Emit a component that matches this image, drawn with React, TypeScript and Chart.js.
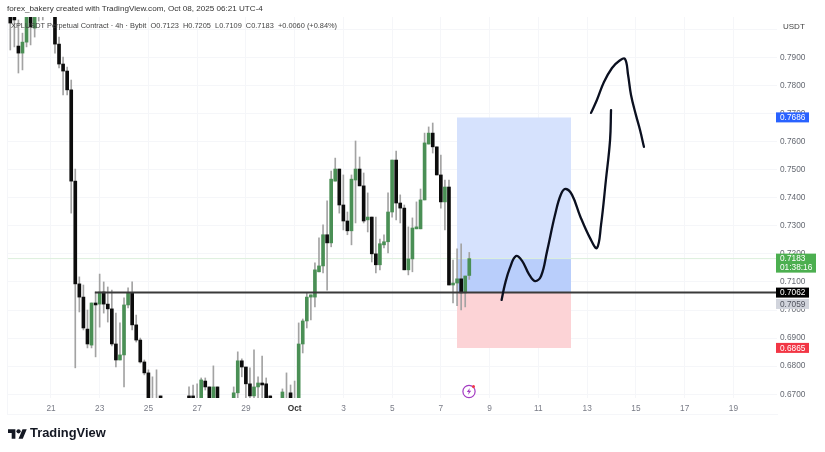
import React, { useEffect, useRef } from "react";
import { Chart, registerables } from "chart.js";

Chart.register(...registerables);

const N = null;
const firstCandleDay = 19.33;
const candlesPerDay = 6;

const opens = [
  .8068,.8051,.7940,.7915,.7954,.8054,.8004,.8076,.8086,N,
  N,.8068,.7947,.7876,.7851,.7784,.7459,.7093,.7046,.6932,
  .6875,.7025,.7021,.7064,.7021,.7004,.6879,.6822,.6840,.7018,
  .7061,.6947,.6893,.6815,.6776,.6680,.6680,.6694,N,N,
  N,N,N,N,.6694,.6694,.6680,.6662,.6747,.6726,
  .6662,.6726,N,N,N,.6662,.6705,.6819,.6797,.6737,
  .6694,.6726,.6740,.6737,.6694,N,N,.6662,.6680,.6705,
  .6680,.6662,.6879,.6961,.7046,.7046,.7136,.7157,.7268,.7239,
  .7459,.7502,.7374,.7317,.7282,.7463,.7502,.7442,.7321,.7331,
  .7200,.7161,.7232,.7243,.7349,.7534,.7381,.7363,.7143,.7182,
  .7289,.7289,.7392,.7591,.7630,.7581,.7481,.7385,.7438,.7089,
  .7096,.7111,.7061,.7123,
];
const highs = [
  .8068,.8051,.8033,.7986,.8054,.8054,.8054,.8086,.8086,N,
  N,.8068,.7972,.7901,.7865,.7819,.7502,.7118,.7089,.7000,
  .7025,.7064,.7128,.7100,.7082,.7071,.6989,.6954,.7043,.7079,
  .7100,.6982,.6900,.6822,.6787,.6762,.6787,.6694,N,N,
  N,N,N,N,.6726,.6733,.6737,.6758,.6758,.6726,
  .6801,.6726,N,N,N,.6726,.6851,.6826,.6797,.6794,
  .6858,.6762,.6836,.6758,.6694,N,N,.6719,.6776,.6733,
  .6747,.6954,.6968,.7061,.7054,.7168,.7257,.7303,.7389,.7495,
  .7541,.7502,.7481,.7349,.7481,.7602,.7545,.7488,.7417,.7331,
  .7331,.7253,.7268,.7417,.7534,.7566,.7410,.7374,.7296,.7328,
  .7385,.7431,.7630,.7652,.7666,.7581,.7552,.7463,.7463,.7178,
  .7218,.7236,.7121,.7205,
];
const lows = [
  .7926,.7937,.7844,.7855,.7937,.7944,.7972,.8029,.8033,N,
  N,.7915,.7862,.7766,.7766,.7345,.6794,.6993,.6929,.6865,
  .6865,.6833,.6939,.6989,.6957,.6872,.6797,.6822,.6726,.7007,
  .6929,.6886,.6811,.6769,.6662,.6662,.6662,.6683,N,N,
  N,N,N,N,.6662,.6662,.6662,.6662,.6715,.6662,
  .6662,.6662,N,N,N,.6662,.6662,.6762,.6680,.6680,
  .6680,.6680,.6680,.6662,.6683,N,N,.6662,.6662,.6662,
  .6662,.6662,.6847,.6936,.6965,.7011,.7136,.7132,.7071,.7225,
  .7459,.7345,.7285,.7268,.7232,.7310,.7442,.7310,.7278,.7171,
  .7132,.7143,.7221,.7203,.7331,.7321,.7310,.7143,.7125,.7136,
  .7289,.7289,.7392,.7591,.7559,.7481,.7363,.7285,.7089,.7025,
  .7015,.7000,.7011,.7109,
];
const closes = [
  .8022,.8033,.7915,.7954,.8054,.8008,.8054,.8054,.8068,N,
  N,.7947,.7876,.7851,.7784,.7459,.7093,.7046,.6936,.6879,
  .7025,.7018,.7064,.7021,.7004,.6879,.6822,.6840,.7018,.7061,
  .6947,.6893,.6815,.6776,.6662,.6662,.6662,.6683,N,N,
  N,N,N,N,.6683,.6683,.6662,.6751,.6726,.6662,
  .6726,.6662,N,N,N,.6705,.6819,.6797,.6737,.6694,
  .6726,.6740,.6733,.6662,.6683,N,N,.6708,.6662,.6662,
  .6662,.6879,.6961,.7046,.7054,.7143,.7157,.7268,.7239,.7466,
  .7502,.7374,.7317,.7282,.7466,.7502,.7442,.7317,.7331,.7200,
  .7161,.7236,.7243,.7349,.7534,.7381,.7363,.7143,.7182,.7292,
  .7296,.7392,.7595,.7630,.7581,.7481,.7385,.7438,.7089,.7096,
  .7111,.7061,.7121,.7183,
];

const xTickDays = [21, 23, 25, 27, 29, 31, 33, 35, 37, 39, 41, 43, 45, 47, 49];
const xTickLabels = ["21", "23", "25", "27", "29", "Oct", "3", "5", "7", "9", "11", "13", "15", "17", "19"];
const yTicks = [0.67, 0.68, 0.69, 0.7, 0.71, 0.72, 0.73, 0.74, 0.75, 0.76, 0.77, 0.78, 0.79, 0.8];
const yTickLabels = ["0.6700", "0.6800", "0.6900", "0.7000", "0.7100", "0.7200", "0.7300", "0.7400", "0.7500", "0.7600", "0.7700", "0.7800", "0.7900", ""];

const positionDays = [37.66, 42.34];
const targetPrice = 0.7686;
const lastPrice = 0.7183;
const entryPrice = 0.7062;
const stopPrice = 0.6865;
const levelDays = [22.8, 50.79];
const lastPriceDays = [19.2, 50.79];

const sketchADays = [39.49, 39.63, 39.83, 40.08, 40.33, 40.61, 40.86, 41.11, 41.35, 41.68, 41.93, 42.13, 42.38, 42.71, 43.12, 43.4, 43.57, 43.77, 43.94, 43.98];
const sketchAPrices = [.7036, .7093, .7150, .7192, .7175, .7128, .7103, .7121, .7207, .7338, .7413, .7431, .7410, .7335, .7256, .7221, .7303, .7463, .7605, .7712];
const sketchBDays = [43.16, 43.4, 43.69, 44.02, 44.31, 44.55, 44.68, 44.8, 45.0, 45.17, 45.33];
const sketchBPrices = [.7702, .7748, .7812, .7862, .7887, .7894, .7837, .7766, .7695, .7641, .7581];

const tagValues = [0.7686, 0.7183, 0.7062, 0.7059, 0.6865];
const tagTexts = ["0.7686", "0.7183", "0.7062", "0.7059", "0.6865"];
const tagFills = ["#2962ff", "#4caf50", "#000000", "#d1d4dc", "#f23645"];
const tagInks = ["#ffffff", "#ffffff", "#ffffff", "#50535e", "#ffffff"];
const countdown = "01:38:16";

const FONT = '"Liberation Sans", Arial, sans-serif';
const UP = "#4a8f55";
const DOWN = "#0c0c0c";
const WICK = "#a3a3a3";

const day = (i: number) => firstCandleDay + i / candlesPerDay;
const pairs = (xs: number[], ys: number[]) => xs.map((x, i) => ({ x, y: ys[i] }));

const wicks: any[] = [];
const upBodies: any[] = [];
const downBodies: any[] = [];
opens.forEach((o, i) => {
  if (o === null) return;
  const c = closes[i] as number;
  wicks.push({ x: day(i), y: [lows[i], highs[i]] });
  (c >= o ? upBodies : downBodies).push({ x: day(i), y: [o, c] });
});

const flat = (days: number[], p: number) => days.map((x) => ({ x, y: p }));

const tagsPlugin = {
  id: "priceTags",
  afterDraw(chart: any) {
    const { ctx, scales } = chart;
    ctx.save();
    ctx.textBaseline = "middle";
    ctx.font = `8.3px ${FONT}`;
    tagValues.forEach((v, i) => {
      let y = scales.y.getPixelForValue(v);
      if (i === 3) y += 10.5;
      const isLast = i === 1;
      ctx.fillStyle = tagFills[i];
      ctx.fillRect(776, y - 5, isLast ? 40 : 33, isLast ? 19 : 10);
      ctx.fillStyle = tagInks[i];
      ctx.fillText(tagTexts[i], 780, y + 0.5);
      if (isLast) ctx.fillText(countdown, 780, y + 9);
    });
    ctx.restore();
  },
};

export default function App() {
  const ref = useRef<HTMLCanvasElement>(null);
  useEffect(() => {
    const lineBase = { type: "line", pointRadius: 0, borderWidth: 0, parsing: true };
    const chart = new Chart(ref.current as HTMLCanvasElement, {
      type: "bar",
      data: {
        datasets: [
          { ...lineBase, data: pairs(sketchADays, sketchAPrices), borderColor: "#0b1020", borderWidth: 2.3, tension: 0.4, borderCapStyle: "round" },
          { ...lineBase, data: pairs(sketchBDays, sketchBPrices), borderColor: "#0b1020", borderWidth: 2.3, tension: 0.4, borderCapStyle: "round" },
          { ...lineBase, data: flat(levelDays, entryPrice), borderColor: "#3a3a3a", borderWidth: 2 },
          { data: upBodies, backgroundColor: UP, barThickness: 3, grouped: false },
          { data: downBodies, backgroundColor: DOWN, barThickness: 3, grouped: false },
          { data: wicks, backgroundColor: WICK, barThickness: 1, grouped: false },
          { ...lineBase, data: flat(lastPriceDays, lastPrice), borderColor: "#dcefdc", borderWidth: 1 },
          { ...lineBase, data: flat(positionDays, targetPrice), backgroundColor: "#d6e2fd", fill: { target: { value: lastPrice }, above: "#d6e2fd", below: "#d6e2fd" } },
          { ...lineBase, data: flat(positionDays, lastPrice), backgroundColor: "#b9cefb", fill: { target: { value: entryPrice }, above: "#b9cefb", below: "#b9cefb" } },
          { ...lineBase, data: flat(positionDays, stopPrice), backgroundColor: "#fcd3d6", fill: { target: { value: entryPrice }, above: "#fcd3d6", below: "#fcd3d6" } },
        ] as any,
      },
      options: {
        animation: false,
        responsive: false,
        events: [],
        layout: { padding: { left: 7, top: 17, right: 0, bottom: 38 } },
        plugins: { legend: { display: false }, tooltip: { enabled: false }, title: { display: false } },
        scales: {
          x: {
            type: "linear",
            offset: false,
            min: 19.195,
            max: 50.79,
            border: { display: false },
            grid: { color: "#f5f6f9", offset: false, drawTicks: false },
            afterFit: (s: any) => { s.height = 16; },
            afterBuildTicks: (s: any) => { s.ticks = xTickDays.map((value) => ({ value })); },
            ticks: {
              autoSkip: false,
              maxRotation: 0,
              padding: 6,
              color: (c: any) => (c.tick?.value === 31 ? "#333" : "#787b86"),
              font: (c: any) => ({ family: FONT, size: 8.3, weight: c.tick?.value === 31 ? "bold" : "normal" }),
              callback: (v: any) => xTickLabels[xTickDays.indexOf(Number(v))],
            },
          },
          y: {
            position: "right",
            min: 0.66866,
            max: 0.80435,
            border: { display: false },
            grid: { color: "#f5f6f9", drawTicks: false },
            afterFit: (s: any) => { s.width = 48; },
            afterBuildTicks: (s: any) => { s.ticks = yTicks.map((value) => ({ value })); },
            ticks: {
              autoSkip: false,
              padding: 3,
              color: "#666a73",
              font: { family: FONT, size: 8.3 },
              callback: (v: any) => yTickLabels[yTicks.findIndex((t) => Math.abs(t - Number(v)) < 1e-6)],
            },
          },
        } as any,
      } as any,
      plugins: [tagsPlugin],
    } as any);
    return () => chart.destroy();
  }, []);

  const abs = (left: number, top: number, extra: any = {}) => ({
    position: "absolute", left, top, fontFamily: FONT, whiteSpace: "nowrap", lineHeight: 1, ...extra,
  });

  return (
    <div style={{ position: "fixed", left: 0, top: 0, width: 825, height: 452, background: "#fff", overflow: "hidden", filter: "blur(0.7px)" }}>
      <canvas ref={ref} width={825} height={452} style={{ display: "block" }} />
      <div style={abs(7, 5, { fontSize: 8.1, color: "#333" }) as any}>forex_bakery created with TradingView.com, Oct 08, 2025 06:21 UTC-4</div>
      <div style={abs(11, 22, { fontSize: 7.4, color: "#444" }) as any}>
        XPLUSDT Perpetual Contract · 4h · Bybit&nbsp; O0.7123&nbsp; H0.7205&nbsp; L0.7109&nbsp; C0.7183&nbsp; +0.0060 (+0.84%)
      </div>
      <div style={abs(783, 23, { fontSize: 8, color: "#444" }) as any}>USDT</div>
      <div style={abs(7, 17, { width: 770, height: 397, borderLeft: "1px solid #f5f6f9", borderBottom: "1px solid #f5f6f9" }) as any} />
      <svg style={abs(7.5, 427) as any} width="19" height="14" viewBox="0 0 36 26">
        <path d="M14 22H7V11H0V4h14v18zM28 22h-8l7.5-18h8L28 22z" fill="#131722" />
        <circle cx="20" cy="8" r="4" fill="#131722" />
      </svg>
      <div style={abs(30, 427, { fontSize: 12.9, fontWeight: 700, color: "#131722" }) as any}>TradingView</div>
      <svg style={abs(461, 383) as any} width="16" height="16" viewBox="0 0 16 16">
        <circle cx="8" cy="8.5" r="6.1" fill="#fff" stroke="#a33bc2" strokeWidth="1.2" />
        <path d="M8.8 5 5.8 9h2l-.8 3 3.2-4.2H8.2z" fill="#a33bc2" />
        <circle cx="12.5" cy="3.6" r="1.5" fill="#f23645" />
      </svg>
    </div>
  );
}
